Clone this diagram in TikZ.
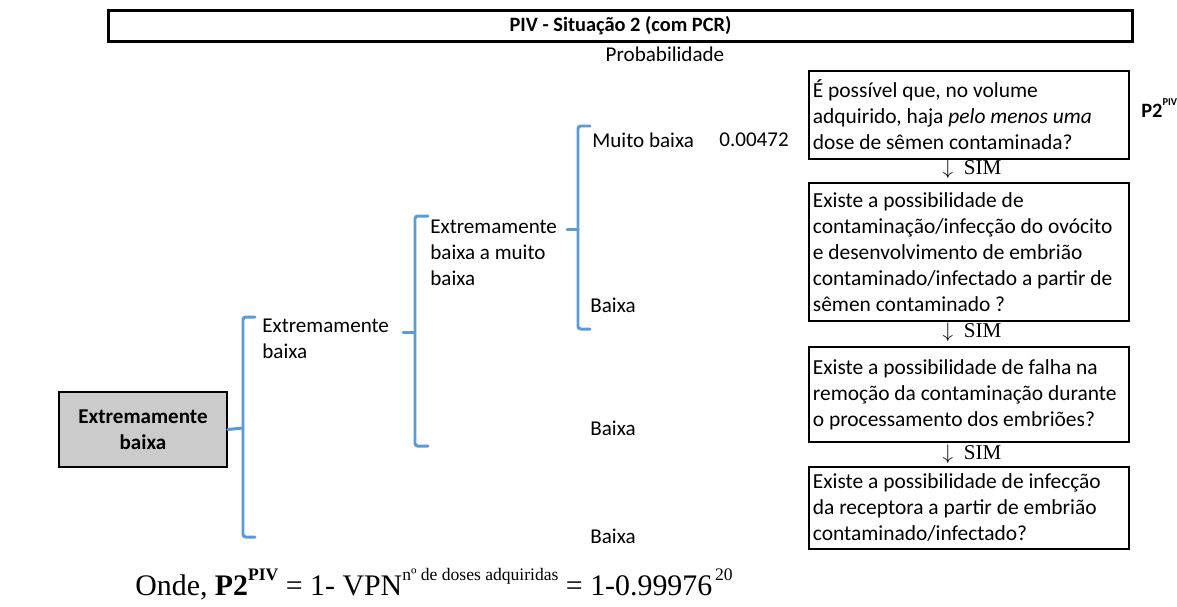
\documentclass[tikz,border=0pt]{standalone}
\usepackage{fontspec}
\setmainfont{Carlito}
\newfontfamily\timesfont{Liberation Serif}
\usetikzlibrary{calc}
\definecolor{brblue}{HTML}{5B9BD5}
\definecolor{rootgray}{HTML}{CBCBCB}
\newcommand{\upsc}[3]{\raisebox{#1}{\fontsize{#2}{#2}\selectfont #3}}

\tikzset{
  bracket/.style={draw=brblue, line width=1.7pt, line cap=round, rounded corners=1.5pt},
  qbox/.style={draw, line width=1pt, anchor=north west, inner xsep=0.08cm,
    text width=6.24cm, minimum width=6.4cm, align=flush left,
    font=\fontsize{12.2}{14.8}\selectfont},
  lbl/.style={anchor=west, inner sep=0pt},
  mlbl/.style={anchor=north west, inner sep=0pt, align=left},
  sim/.style={font=\timesfont\fontsize{12}{14}\selectfont, inner sep=0pt},
}

\begin{document}
\begin{tikzpicture}[x=0.02cm, y=-0.02cm, font=\fontsize{12}{14.8}\selectfont]
  \useasboundingbox (0,0) rectangle (1177,606);
  % heading
  \node[draw, line width=1.7pt, minimum width=20.5cm, minimum height=0.56cm,
    font=\bfseries\fontsize{11.6}{14}\selectfont] (title) at (620.5,26) {PIV - Situação 2 (com PCR)};
  \node[inner sep=0pt] (prob) at (665,54) {Probabilidade};
  % questions on the right
  \node[qbox, minimum height=1.76cm] (q1) at (808,70)
    {É possível que, no volume\\adquirido, haja \textit{pelo menos uma}\\dose de sêmen contaminada?};
  \node[qbox, minimum height=2.76cm] (q2) at (808,182)
    {Existe a possibilidade de\\contaminação/infecção do ovócito\\e desenvolvimento de embrião\\contaminado/infectado a partir de\\sêmen contaminado ?};
  \node[qbox, minimum height=1.9cm] (q3) at (808,346)
    {Existe a possibilidade de falha na\\remoção da contaminação durante\\o processamento dos embriões?};
  \node[qbox, minimum height=1.64cm] (q4) at (808,466)
    {Existe a possibilidade de infecção\\da receptora a partir de embrião\\contaminado/infectado?};
  \node[sim] (s1) at (972,169) {$\downarrow$\ \ SIM};
  \node[sim] (s2) at (972,332) {$\downarrow$\ \ SIM};
  \node[sim] (s3) at (972,454) {$\downarrow$\ \ SIM};
  \node[lbl, font=\bfseries\fontsize{11.6}{14}\selectfont] (p2) at (1141,108) {P2\upsc{0.55em}{6}{PIV}};
  % tree of probabilities
  \node[draw, line width=1pt, fill=rootgray, minimum width=3.36cm, minimum height=1.5cm,
    align=center, font=\bfseries\fontsize{12}{14.8}\selectfont] (root) at (143,429.5) {Extremamente\\baixa};
  \node[mlbl] (n1) at (262,319) {Extremamente\\baixa};
  \node[mlbl] (n2) at (430,220) {Extremamente\\baixa a muito\\baixa};
  \node[lbl] (n3) at (592,140) {Muito baixa};
  \node[lbl] (v3) at (719,140) {0.00472};
  \node[lbl] (b1) at (590,305) {Baixa};
  \node[lbl] (b2) at (590,428) {Baixa};
  \node[lbl] (b3) at (590,536) {Baixa};
  \draw[bracket] (255,317) -- (243,317) -- (243,537) -- (255,537);
  \draw[bracket] (root.east) -- (243,428);
  \draw[bracket] (428,216) -- (415,216) -- (415,446) -- (428,446);
  \draw[bracket] (403,332) -- (415,332);
  \draw[bracket] (590,126) -- (578,126) -- (578,329) -- (590,329);
  \draw[bracket] (567,229) -- (578,229);
  % formula
  \node[lbl, font=\timesfont\fontsize{17}{20}\selectfont] (eq) at (135,584)
    {Onde, \textbf{P2\upsc{0.5em}{10}{PIV}} = 1- VPN\upsc{0.5em}{10}{nº de doses adquiridas} = 1-0.99976\upsc{0.5em}{10}{\,20}};
\end{tikzpicture}
\end{document}
